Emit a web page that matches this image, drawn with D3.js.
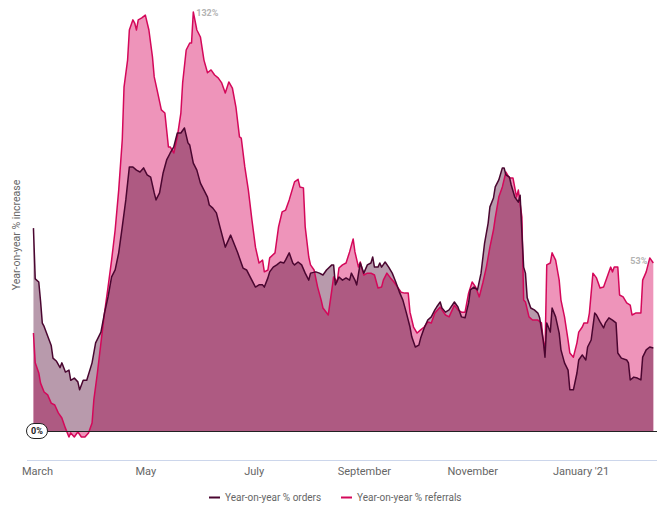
<!DOCTYPE html>
<html><head><meta charset="utf-8">
<script src="https://cdn.jsdelivr.net/npm/d3@7"></script>
<style>html,body{margin:0;padding:0;background:#fff;}svg{display:block;font-family:Roboto,"Noto Sans",sans-serif;}</style>
</head><body><svg id="c" width="667" height="521"></svg>
<script>
// Days counted from 1 March 2020
const orderDays = [-2,-1,1,2,3,4,6,8,9,11,13,14,16,18,19,21,23,24,26,28,31,33,36,38,40,42,44,46,48,50,52,54,56,58,60,62,64,66,67,69,71,73,75,77,79,81,83,85,86,88,90,92,94,96,97,99,101,103,106,109,113,115,116,118,120,123,125,127,128,130,131,133,135,137,139,140,142,144,145,147,149,151,153,154,157,159,161,163,166,167,168,170,172,174,176,177,179,180,182,184,186,188,189,190,192,193,194,196,198,200,202,204,206,208,210,211,213,215,216,218,220,222,224,225,227,228,230,232,235,237,239,241,243,244,246,248,250,252,254,255,257,258,260,262,263,264,266,267,269,271,272,273,274,275,276,278,280,282,283,285,286,287,289,290,292,294,295,297,299,300,302,304,305,307,309,310,312,314,315,317,319,320,322,324,326,327,329,332,333,334,336,338,340,341,343,345,347];
const orderValues = [64,48,47,41,34,33,30,27,23,22,20,21.5,18.6,19.2,16,16.7,15.5,13,16,16,21.5,27.8,31.2,37.2,42.3,48.6,50.8,56.2,64.4,72.9,83.3,83.3,82.3,81.7,83,80.8,80.1,75.1,72.9,75.1,81.4,85.5,87.7,89.6,94,94,95.6,90.9,90.2,84.5,82.3,78.2,76,73.8,71.3,70.3,68.8,64.4,58,61.8,56.2,53,51.4,50.8,48.6,45.4,46.1,46.1,45.4,48.3,50.2,51.7,52.4,53.3,53,54,56.2,53,52.4,53.3,52.4,49.8,47.6,49.8,50.2,49.8,49.2,50.8,52.4,52.4,46.1,48.6,47.6,48.3,47.6,49.8,47.6,46.1,53,49.8,52.4,53,54.9,51.7,51.7,53,51.7,53.3,51.7,49.8,47,43.9,41.3,37.2,32.8,29.7,26.5,27.1,29.3,32.5,35,36,38.2,39.1,40.7,38.8,37.5,38.2,40.7,39.1,36,35.7,40.4,44.5,45.4,44.5,49.8,59.3,65.6,70.7,73.5,77,79.2,83,83,80.8,80.1,77.6,73.8,72.2,74.4,62.5,51.7,49.8,42,38.8,38.2,37.2,35.7,28.7,23.3,34.1,31.2,38.8,36,30.9,25.6,21.5,19.2,13,13,18.3,22.4,24,22.4,26.5,28.7,37.2,36.6,34.4,32.5,34.1,35.7,35,34.1,24.6,23,22.4,21.5,16.1,17,16.7,16.1,23.3,25.6,26.5,26.2];
const referralDays = [-2,-1,1,2,4,6,8,10,12,14,16,18,19,21,23,25,27,29,31,32,34,36,38,40,42,44,46,48,49,51,52,54,55,56,57,59,61,63,65,66,68,70,72,74,75,77,79,81,82,84,86,87,88,90,92,94,96,98,100,102,104,106,108,110,112,114,115,117,119,121,123,125,127,128,130,131,134,136,138,140,142,144,145,147,148,150,151,153,154,156,158,160,161,164,166,167,169,170,172,174,176,178,179,181,182,184,186,188,190,192,194,195,197,199,201,203,205,207,209,210,212,214,216,218,220,222,224,227,228,230,232,235,237,239,241,243,245,247,249,251,253,255,257,258,260,262,264,266,268,270,271,273,274,275,277,279,282,284,285,286,287,289,290,292,294,295,297,299,300,302,304,305,307,308,310,311,313,315,317,319,321,323,324,325,327,328,330,332,334,335,337,339,340,341,343,345,347];
const referralValues = [30.9,21.5,18.3,15.1,12.3,11.4,8.8,8.2,5.7,4.1,0.9,-1.9,-0.6,-1.9,-0.3,-1.9,-1.9,-0.6,2.5,9.8,18.3,27.8,37.2,45.4,53.9,63.4,76,91.8,108.5,117,126.5,129.7,128.7,126.5,129.7,130.3,131.2,126.5,118,111.7,106.6,101.3,100.3,89.6,89.6,87.7,92.8,100.3,109.8,120.2,122.4,122.4,132.2,126.5,124.3,117,113,113.9,112.3,111.4,109.8,106.6,110.1,108.2,102.2,92.8,92.4,83.3,76,66.6,58,53,53.9,50.2,50.8,54.6,56.2,64.4,69.1,69.7,72.9,76.7,78.6,79.4,77,76.7,64.4,54.9,52.4,50.8,45.4,41.3,38.8,36.6,44.5,48.6,47,51.4,52.4,53,56.5,60.6,56.5,51.7,53.3,49.2,49.8,49.8,49.2,45.1,45.4,47.6,49.8,48.3,47,45.4,43.8,43.5,43.5,37.5,32.8,30.9,31.9,32.8,34.4,34.1,37.2,39.1,38.2,36.6,36,39.7,38.2,37.5,37.5,43.5,47,45.4,42.3,46.7,51.7,58,63.4,67.2,73.8,77,81.7,79.8,79.8,73.8,76,67.5,41.3,40.7,36,35,35,34.1,28.7,24.6,52.4,53,56.2,53.9,47.6,41.3,36,28.7,24.6,23.3,27.8,31.2,32.8,34.1,34.1,37.2,49.8,48.3,45.1,45.4,48.6,51.7,50.2,51.7,51.7,42.9,42.3,40.4,39.7,36.6,37.2,37.2,37.2,47.6,50.2,54.6,53];
const tickDays = [0,61,122,184,245,306];
const tickLabels = ["March","May","July","September","November","January '21"];
const seriesNames = ["Year-on-year % orders","Year-on-year % referrals"];
const yTitle = "Year-on-year % increase";

const start = new Date(2020,2,1);
const toDate = d => d3.timeDay.offset(start, d);
const orders = orderDays.map((d,i)=>({date:toDate(d), v:orderValues[i]}));
const referrals = referralDays.map((d,i)=>({date:toDate(d), v:referralValues[i]}));

const svg = d3.select("#c");
const x = d3.scaleTime().domain([start, toDate(306)]).range([37, 580.5]);
const y = d3.scaleLinear().domain([0, 100]).range([431, 114]);

const area = d3.area().x(d=>x(d.date)).y0(y(0)).y1(d=>y(d.v));
const line = d3.line().x(d=>x(d.date)).y(d=>y(d.v));

svg.append("path").datum(referrals).attr("d", area).attr("fill","rgba(214,0,90,0.42)");
svg.append("path").datum(orders).attr("d", area).attr("fill","rgba(77,2,47,0.4)");
svg.append("path").datum(referrals).attr("d", line).attr("fill","none").attr("stroke","#d4085a").attr("stroke-width",1.5).attr("stroke-linejoin","round");
svg.append("path").datum(orders).attr("d", line).attr("fill","none").attr("stroke","#4a0630").attr("stroke-width",1.5).attr("stroke-linejoin","round");

// zero line
svg.append("line").attr("x1",35).attr("x2",657).attr("y1",y(0)+0.5).attr("y2",y(0)+0.5).attr("stroke","#222").attr("stroke-width",1);
// 0% pill
const pill = svg.append("g").attr("transform",`translate(37,${y(0)})`);
pill.append("rect").attr("x",-10.5).attr("y",-7.5).attr("width",21).attr("height",15).attr("rx",7.5).attr("fill","#fff").attr("stroke","#222").attr("stroke-width",1);
pill.append("text").attr("text-anchor","middle").attr("dy","0.35em").attr("font-size",9).attr("font-weight","bold").attr("fill","#222").text("0%");

// value annotations
const peak = referrals[d3.maxIndex(referrals,d=>d.v)];
svg.append("text").attr("x",x(peak.date)+3).attr("y",y(peak.v)+4).attr("font-size",9).attr("font-weight","bold").attr("fill","#b3b3b3").text(Math.round(peak.v)+"%");
const last = referrals[referrals.length-1];
svg.append("text").attr("x",x(last.date)-6).attr("y",y(last.v)+1).attr("text-anchor","end").attr("font-size",9).attr("font-weight","bold").attr("fill","#b3b3b3").text(Math.round(last.v)+"%");

// x axis
svg.append("line").attr("x1",27).attr("x2",657).attr("y1",460.5).attr("y2",460.5).attr("stroke","#ccd6eb");
const xAxis = d3.axisBottom(x).tickValues(tickDays.map(toDate)).tickFormat((d,i)=>tickLabels[i]).tickSize(0).tickPadding(0);
const gx = svg.append("g").attr("transform","translate(0,467)").call(xAxis);
gx.select(".domain").remove();
gx.selectAll("text").attr("font-size",11).attr("fill","#666").attr("font-family","Roboto, sans-serif").attr("dy","0.71em");

// y title
svg.append("text").attr("transform","translate(20,235) rotate(-90)").attr("text-anchor","middle").attr("font-size",10.5).attr("fill","#666").text(yTitle);

// legend
const leg = svg.append("g");
const legItems = [{name:seriesNames[0],color:"#4a0630",x:209},{name:seriesNames[1],color:"#d4085a",x:341}];
legItems.forEach(it=>{
  leg.append("line").attr("x1",it.x).attr("x2",it.x+11).attr("y1",497.5).attr("y2",497.5).attr("stroke",it.color).attr("stroke-width",2);
  leg.append("text").attr("x",it.x+16).attr("y",501).attr("font-size",10).attr("fill","#666").text(it.name);
});
</script></body></html>
